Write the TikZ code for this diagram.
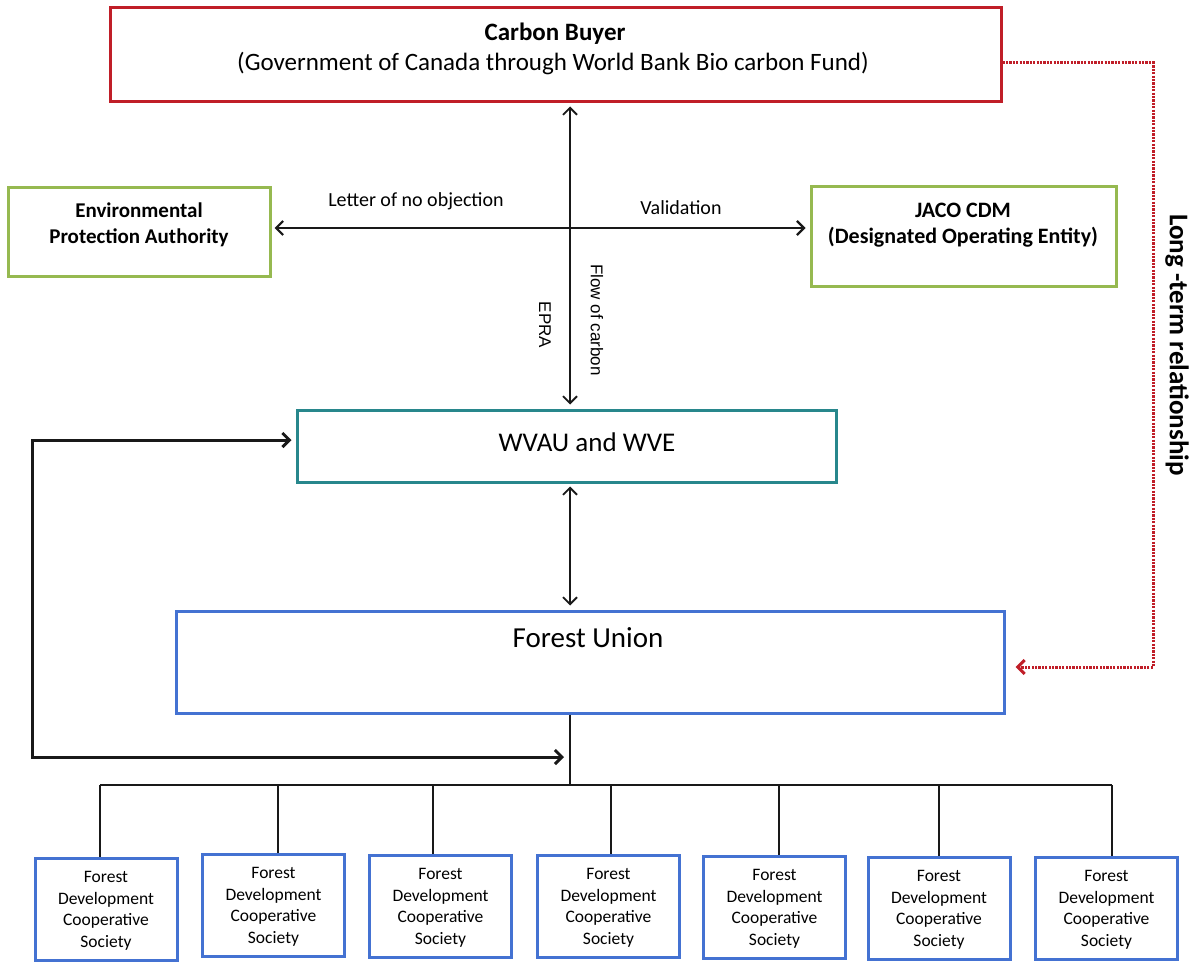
\documentclass[tikz,border=0pt]{standalone}
\usepackage{fontspec}
\setmainfont{Carlito}
\newfontfamily\arialf{Liberation Sans}
\usetikzlibrary{arrows.meta}
\definecolor{cbred}{RGB}{192,30,40}
\definecolor{epagreen}{RGB}{150,185,80}
\definecolor{wvteal}{RGB}{40,135,140}
\definecolor{fublue}{RGB}{68,114,210}
\definecolor{lnk}{RGB}{25,25,25}
\begin{document}
\begin{tikzpicture}[x=1pt,y=-1pt,
  >={Straight Barb[length=7pt,width=14pt]},
  frame/.style={draw=#1, line width=3pt, inner sep=0pt, fill=white},
  dblarrow/.style={draw=lnk, line width=1.8pt, <->, shorten <=3pt, shorten >=4pt},
  thinln/.style={draw=lnk, line width=1.3pt},
  loopln/.style={draw=lnk, line width=3pt, <->, shorten <=4pt, shorten >=6pt},
  reddot/.style={draw=cbred, line width=3pt, dash pattern=on 2.2pt off 1.2pt, ->, shorten >=10pt},
  txt/.style={inner sep=0pt, align=center, text=black}
]
\useasboundingbox (0,0) rectangle (1190,963);

% boxes
\node[frame=cbred, minimum width=891pt, minimum height=94pt] (cb) at (555.5,55) {};
\node[txt, font=\fontsize{25}{30}\selectfont\bfseries] (cbt1) at (555,34) {Carbon Buyer};
\node[txt, font=\fontsize{25}{30}\selectfont] (cbt2) at (553,64) {(Government of Canada through World Bank Bio carbon Fund)};

\node[frame=epagreen, minimum width=262pt, minimum height=89pt] (epa) at (139,231.5) {};
\node[txt, font=\fontsize{21}{26}\selectfont\bfseries] (epat) at (139,225) {Environmental\\Protection Authority};

\node[frame=epagreen, minimum width=305pt, minimum height=100pt] (jaco) at (963.5,236) {};
\node[txt, font=\fontsize{22}{26}\selectfont\bfseries] (jacot) at (963,225) {JACO CDM\\(Designated Operating Entity)};

\node[frame=wvteal, minimum width=539pt, minimum height=72pt] (wv) at (566.5,446) {};
\node[txt, font=\fontsize{27}{30}\selectfont] (wvt) at (587,442) {WVAU and WVE};

\node[frame=fublue, minimum width=828pt, minimum height=102pt] (fu) at (590,662) {};
\node[txt, font=\fontsize{29}{34}\selectfont] (fut) at (588,638) {Forest Union};

\foreach \i/\x/\y in {1/106/909,2/273.5/905,3/440.5/906,4/608.5/906,5/774.5/907,6/939/908,7/1106.5/908}{
  \node[frame=fublue, minimum width=142pt, minimum height=102pt, inner sep=0pt] (b\i) at (\x,\y) {};
  \node[txt, font=\fontsize{17.5}{21.5}\selectfont] (bt\i) at (\x,\y+2) {Forest\\Development\\Cooperative\\Society};
}

% tree connectors
\coordinate (vx) at (570,0);
\foreach \i/\x in {1/100,2/278,3/433,4/611,5/779,6/939,7/1112}{
  \coordinate (d\i) at (\x,785);
  \draw[thinln] (d\i) -- (d\i |- b\i.north);
}
\draw[thinln] (d1) -- (d7);
\draw[thinln] (fu.south -| vx) -- (vx |- d1);

% arrows
\draw[dblarrow] (cb.south -| vx) -- (wv.north -| vx);
\coordinate (hy) at (0,228);
\draw[dblarrow, line width=2.2pt] (epa.east |- hy) -- (jaco.west |- hy);
\draw[dblarrow] (wv.south -| vx) -- (fu.north -| vx);

% left loop
\coordinate (lp1) at (32,440);
\coordinate (lp2) at (32,757);
\draw[loopln] (wv.west |- lp1) -- (lp1) -- (lp2) -- (vx |- lp2);

% long-term relationship
\coordinate (rc1) at (1153,63);
\coordinate (rc2) at (1153,667);
\draw[reddot] (cb.east |- rc1) -- (rc1) -- (rc2) -- (fu.east |- rc2);

% labels
\node[txt, font=\fontsize{20}{24}\selectfont] (lno) at (416,201) {Letter of no objection};
\node[txt, font=\fontsize{20}{24}\selectfont] (val) at (681,208) {Validation};
\node[txt, font=\arialf\fontsize{17}{20}\selectfont, rotate=-90] (epra) at (545,325) {EPRA};
\node[txt, font=\arialf\fontsize{17}{20}\selectfont, rotate=-90] (flow) at (597,320) {Flow of carbon};
\node[txt, font=\fontsize{27}{30}\selectfont\bfseries, rotate=-90] (ltr) at (1177,345) {Long -term relationship};
\end{tikzpicture}
\end{document}
